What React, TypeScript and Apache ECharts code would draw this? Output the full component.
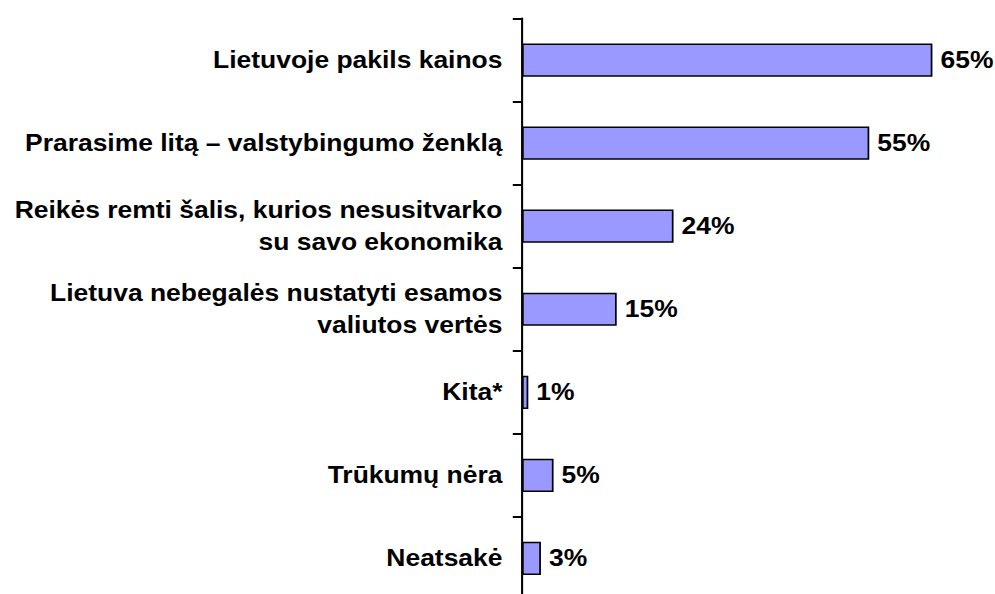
import React, { useEffect, useRef } from "react";
import * as echarts from "echarts";

const categories = [
  "Lietuvoje pakils kainos",
  "Prarasime litą – valstybingumo ženklą",
  "Reikės remti šalis, kurios nesusitvarko\nsu savo ekonomika",
  "Lietuva nebegalės nustatyti esamos\nvaliutos vertės",
  "Kita*",
  "Trūkumų nėra",
  "Neatsakė",
];
const values = [65, 55, 24, 15, 1, 5, 3];

const SX = 1.15;

export default function App() {
  const ref = useRef<HTMLDivElement>(null);
  useEffect(() => {
    if (!ref.current) return;
    const chart = echarts.init(ref.current, null, { renderer: "svg" });
    chart.setOption({
      animation: false,
      grid: { left: 522 / SX, top: 18.5, width: 442 / SX, height: 581.5 },
      xAxis: {
        type: "value",
        min: 0,
        max: 70,
        show: false,
      },
      yAxis: {
        type: "category",
        inverse: true,
        data: categories,
        axisLine: { show: true, lineStyle: { color: "#000", width: 1.8 } },
        axisTick: { show: true, length: 8, lineStyle: { color: "#000", width: 2 } },
        axisLabel: {
          margin: 17,
          color: "#000",
          fontFamily: "Liberation Sans, Arial, sans-serif",
          fontWeight: "bold",
          fontSize: 23,
          lineHeight: 32,
          align: "right",
        },
        splitLine: { show: false },
      },
      series: [
        {
          type: "bar",
          data: values,
          barWidth: "40%",
          itemStyle: { color: "#9999FF", borderColor: "#000", borderWidth: 1.5 },
          label: {
            show: true,
            position: "right",
            distance: 7,
            formatter: "{c}%",
            color: "#000",
            fontFamily: "Liberation Sans, Arial, sans-serif",
            fontWeight: "bold",
            fontSize: 23,
          },
        },
      ],
    });
    return () => chart.dispose();
  }, []);
  return (
    <div style={{ position: "fixed", left: 0, top: 0, width: 995, height: 594, overflow: "hidden", background: "#fff" }}>
      <div
        ref={ref}
        style={{ width: 995 / SX, height: 600, transform: `scaleX(${SX})`, transformOrigin: "0 0" }}
      />
    </div>
  );
}
